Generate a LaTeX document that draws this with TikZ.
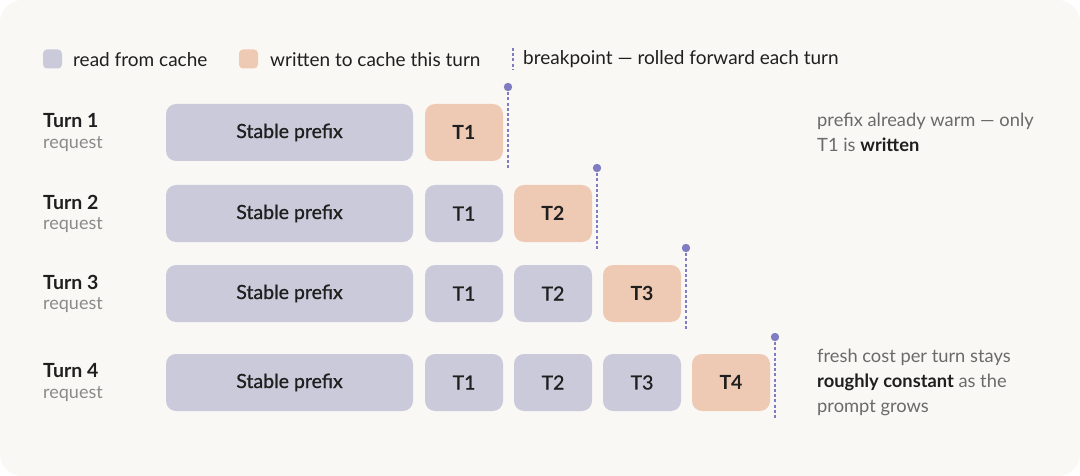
\documentclass[tikz,border=0pt]{standalone}
\usepackage{fontspec}
\setmainfont{Lato}
\newfontfamily\medfont[FakeBold=0.9]{Lato}
\definecolor{bg}{HTML}{FAF8F4}
\definecolor{readc}{HTML}{CBCADB}
\definecolor{writec}{HTML}{EECAB4}
\definecolor{bpc}{HTML}{7F7CC2}
\definecolor{ink}{HTML}{1F1F1F}
\definecolor{muted}{HTML}{6A6A6A}
\definecolor{subc}{HTML}{8A8A8A}
\tikzset{
  blk/.style={rounded corners=10pt, inner sep=0pt, minimum height=57pt, text=ink, font=\fontsize{19.5}{22}\medfont},
  prefixbox/.style={blk, fill=readc, minimum width=247pt},
  readbox/.style={blk, fill=readc, minimum width=78pt},
  writebox/.style={blk, fill=writec, minimum width=78pt, font=\fontsize{19.5}{22}\selectfont\bfseries},
  legsq/.style={rounded corners=4pt, inner sep=0pt, minimum size=19pt},
  legtxt/.style={anchor=west, inner sep=0pt, text=ink, font=\fontsize{19}{22}\selectfont},
  bpline/.style={draw=bpc, line width=1.1pt, dash pattern=on 3pt off 2.2pt},
  turnlbl/.style={anchor=west, inner sep=0pt, text=ink, font=\fontsize{19.5}{22}\selectfont\bfseries},
  reqlbl/.style={anchor=west, inner sep=0pt, text=subc, font=\fontsize{18}{21}\selectfont},
  note/.style={anchor=north west, inner sep=0pt, text=muted, align=left, font=\fontsize{18.3}{25}\selectfont},
}
\begin{document}
\begin{tikzpicture}[x=1pt,y=-1pt]
\useasboundingbox (0,0) rectangle (1080,476);
\fill[white] (0,0) rectangle (1080,476);
\fill[bg, rounded corners=22pt] (0,0) rectangle (1080,476);

% legend
\node[legsq, fill=readc] (lq1) at (52.5,59) {};
\node[legtxt] (lt1) at (73,59.5) {read from cache};
\node[legsq, fill=writec] (lq2) at (248.5,59) {};
\node[legtxt] (lt2) at (270,59.5) {written to cache this turn};
\coordinate (ld1) at (513,48);
\coordinate (ld2) at (513,70);
\draw[bpline] (ld1) -- (ld2);
\node[legtxt] (lt3) at (523,59.5) {breakpoint — rolled forward each turn};

% rows
\foreach \r/\top in {1/104,2/185,3/265,4/354}{
  \node[turnlbl] (turn\r) at (43,\top+17) {Turn \r};
  \node[reqlbl] (req\r) at (43,\top+40) {request};
  \node[prefixbox] (pre\r) at (289.5,\top+28.5) {Stable prefix};
  \foreach \k in {1,...,\r}{
    \ifnum\k<\r
      \node[readbox] (t\r\k) at ({464+89*(\k-1)},\top+28.5) {T\k};
    \else
      \node[writebox] (t\r\k) at ({464+89*(\k-1)},\top+28.5) {T\k};
    \fi
  }
  \coordinate (bt\r) at ({508+89*(\r-1)},\top-17);
  \coordinate (bb\r) at ({508+89*(\r-1)},\top+64);
  \draw[bpline] (bt\r) -- (bb\r);
  \fill[bpc] (bt\r) circle (4.2pt);
}

% notes
\node[note] (n1) at (817,113) {prefix already warm — only\\T1 is \textcolor{ink}{\bfseries written}};
\node[note] (n4) at (817,349) {fresh cost per turn stays\\\textcolor{ink}{\bfseries roughly constant} as the\\prompt grows};
\end{tikzpicture}
\end{document}
